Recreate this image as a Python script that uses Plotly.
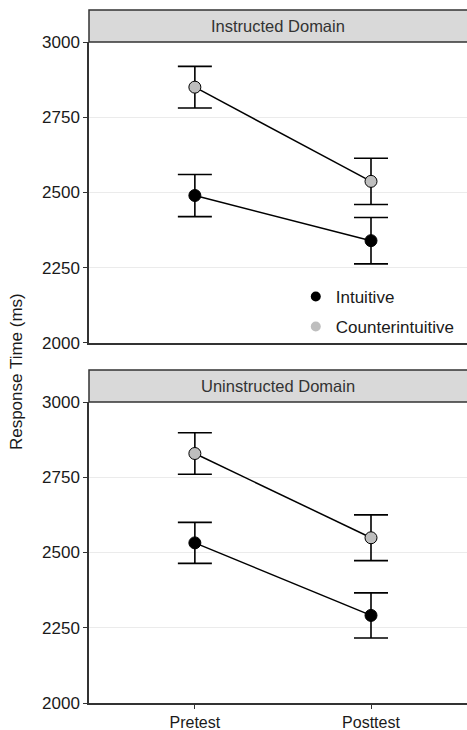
import plotly.graph_objects as go

# ---- data ----
phases = ["Pretest", "Posttest"]
panels = ["Instructed Domain", "Uninstructed Domain"]
instr_intuitive = [2490, 2340]
instr_intuitive_err = [70, 77]
instr_counter = [2850, 2537]
instr_counter_err = [69, 77]
unin_intuitive = [2532, 2291]
unin_intuitive_err = [68, 75]
unin_counter = [2829, 2549]
unin_counter_err = [69, 76]
series_names = ["Intuitive", "Counterintuitive"]
y_ticks = [2000, 2250, 2500, 2750, 3000]

FONT = "Liberation Sans, Arial, Helvetica, sans-serif"
AX = "#333333"
colors = {"Intuitive": "black", "Counterintuitive": "#bebebe"}

fig = go.Figure()

panel_data = [
    ("x", "y", [(instr_intuitive, instr_intuitive_err, "Intuitive"),
                (instr_counter, instr_counter_err, "Counterintuitive")]),
    ("x2", "y2", [(unin_intuitive, unin_intuitive_err, "Intuitive"),
                  (unin_counter, unin_counter_err, "Counterintuitive")]),
]
for xa, ya, series in panel_data:
    for vals, errs, name in series:
        fig.add_trace(go.Scatter(
            x=phases, y=vals, xaxis=xa, yaxis=ya, mode="lines+markers",
            line=dict(color="black", width=1.5),
            marker=dict(size=12, color=colors[name], line=dict(color="black", width=1)),
            error_y=dict(type="data", array=errs, visible=True, color="black",
                         thickness=1.6, width=17),
            showlegend=False, hoverinfo="skip"))

# legend-only entries
for i, name in enumerate(series_names):
    fig.add_trace(go.Scatter(
        x=[None], y=[None], mode="markers", name=name,
        marker=dict(size=10, color=colors[name], line=dict(width=0)),
        legendgroup=name, showlegend=True))

top_dom = [0.5195, 0.9538]
bot_dom = [0.0, 0.4343]
xr = [-0.601, 1.545]

TICKFONT = dict(family=FONT, size=17, color="#1a1a1a")
common_y = dict(range=[2000, 3000], tickvals=y_ticks, showgrid=True,
                gridcolor="#ebebeb", gridwidth=1, showline=True, linecolor=AX,
                linewidth=1.5, ticks="outside", ticklen=4, tickcolor=AX,
                tickwidth=1.2, tickfont=TICKFONT, zeroline=False, automargin=False)
fig.update_layout(
    width=467, height=730,
    margin=dict(l=89, r=0, t=10, b=27, autoexpand=False),
    paper_bgcolor="white", plot_bgcolor="white",
    font=dict(family=FONT, size=17, color="#1a1a1a"),
    xaxis=dict(domain=[0, 1], anchor="y", range=xr, type="category",
               showline=True, linecolor=AX, linewidth=1.5, showticklabels=False,
               ticks="", showgrid=False, zeroline=False, automargin=False),
    yaxis=dict(domain=top_dom, anchor="x", **common_y),
    xaxis2=dict(domain=[0, 1], anchor="y2", range=xr, type="category",
                showline=True, linecolor=AX, linewidth=1.5, ticks="outside",
                ticklen=4, tickcolor=AX, tickwidth=1.2, showgrid=False,
                zeroline=False, tickfont=dict(family=FONT, size=16, color="#1a1a1a"),
                automargin=False),
    yaxis2=dict(domain=bot_dom, anchor="x2", **common_y),
    legend=dict(x=0.547, y=0.612, xanchor="left", yanchor="top",
                bgcolor="rgba(0,0,0,0)", font=dict(family=FONT, size=17),
                tracegroupgap=5, itemsizing="trace"),
    showlegend=True,
)

# facet strips
strips = [(panels[0], top_dom[1], 1.0), (panels[1], bot_dom[1], 0.4805)]
for label, y0, y1 in strips:
    fig.add_shape(type="rect", xref="paper", yref="paper", x0=0, x1=1.01,
                  y0=y0, y1=y1, fillcolor="#d9d9d9",
                  line=dict(color=AX, width=1.5), layer="above")
    fig.add_annotation(text=label, xref="paper", yref="paper", x=0.5,
                       y=(y0 + y1) / 2, xanchor="center", yanchor="middle",
                       showarrow=False,
                       font=dict(family=FONT, size=16.5, color="#333333"))

fig.add_annotation(text="Response Time (ms)", xref="paper", yref="paper",
                   x=-0.193, y=0.4776, xanchor="center", yanchor="middle",
                   textangle=-90, showarrow=False,
                   font=dict(family=FONT, size=17, color="#1a1a1a"))

fig.write_html("out.html", config={"displayModeBar": False},
               post_script="document.body.style.margin='0';")
